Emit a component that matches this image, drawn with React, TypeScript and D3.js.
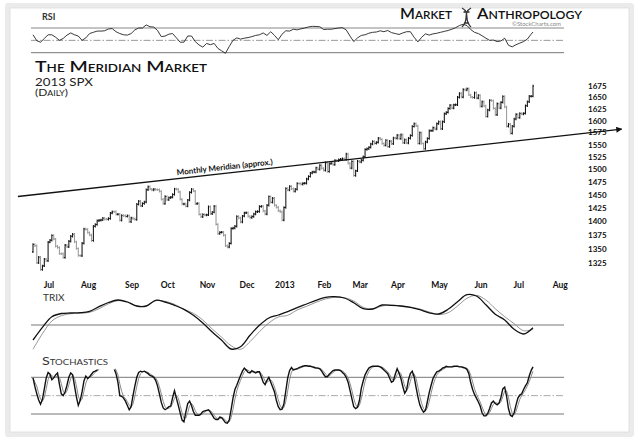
import React from 'react';
import * as d3 from 'd3';

// S&P 500 daily closes, 19 Jun 2012 .. 11 Jul 2013
const priorClose = 1344.78;
const closes = [
  1357.98, 1355.69, 1325.51, 1335.02, 1313.72, 1319.99, 1331.85, 1329.04, 1362.16,
  1365.51, 1374.02, 1367.58, 1354.68, 1352.46, 1341.47, 1341.45, 1334.76, 1356.78, 1353.64,
  1363.67, 1372.78, 1376.51, 1362.66, 1350.52, 1338.31, 1337.89, 1360.02, 1385.97, 1385.3, 1379.32,
  1375.14, 1365.0, 1390.99, 1394.23, 1401.35, 1402.22, 1402.8, 1405.87, 1404.11, 1403.93, 1405.53,
  1415.51, 1418.16, 1418.13, 1413.17, 1413.49, 1402.08, 1411.13, 1410.44, 1409.3, 1410.49, 1399.48, 1406.58,
  1404.94, 1403.44, 1432.12, 1437.92, 1429.08, 1433.56, 1436.56, 1459.99, 1465.77, 1461.19,
  1459.32, 1461.05, 1460.26, 1460.15, 1456.89, 1441.59, 1433.32, 1447.15, 1440.67,
  1444.49, 1445.75, 1450.99, 1461.4, 1460.93, 1455.88, 1441.48, 1432.56, 1432.84, 1428.59,
  1440.13, 1454.92, 1460.91, 1457.34, 1433.19, 1433.82, 1413.11, 1408.75, 1412.97, 1411.94, 1412.16,
  1427.59, 1414.2, 1417.26, 1428.39, 1394.53, 1377.51, 1379.85, 1380.03, 1374.53, 1355.49, 1353.33,
  1359.88, 1386.89, 1387.81, 1391.03, 1409.15, 1406.29, 1398.94, 1409.93, 1415.95, 1416.18,
  1409.46, 1407.05, 1409.28, 1413.94, 1418.07, 1418.55, 1427.84, 1428.48, 1419.45, 1413.58,
  1430.36, 1446.79, 1435.81, 1443.69, 1430.15, 1426.66, 1419.83, 1418.1, 1402.43, 1426.19,
  1462.42, 1459.37, 1466.47, 1461.89, 1457.15, 1461.02, 1472.12, 1472.05, 1470.68, 1472.34,
  1472.63, 1480.94, 1485.98, 1492.56, 1494.81, 1494.82, 1502.96, 1500.18, 1507.84, 1501.96, 1498.11,
  1513.17, 1495.71, 1511.29, 1512.12, 1509.39, 1517.93, 1517.01, 1519.43, 1520.33, 1521.38,
  1519.79, 1530.94, 1511.95, 1502.42, 1515.6, 1487.85, 1496.94, 1515.99, 1514.68,
  1518.2, 1525.2, 1539.79, 1541.46, 1544.26, 1551.18, 1556.22, 1552.48, 1554.52, 1563.23,
  1560.7, 1552.1, 1548.34, 1558.71, 1545.8, 1556.89, 1551.69, 1563.77, 1562.85, 1569.19,
  1562.17, 1570.25, 1553.69, 1559.98, 1553.28, 1563.07, 1568.61, 1587.73, 1593.37, 1588.85, 1552.36,
  1574.57, 1552.01, 1541.61, 1555.25, 1562.5, 1578.78, 1578.79, 1585.16, 1582.24, 1593.61, 1597.57,
  1582.7, 1597.59, 1614.42, 1617.5, 1625.96, 1632.69, 1626.67, 1633.7, 1633.77, 1650.34, 1658.78,
  1650.47, 1667.47, 1666.29, 1669.16, 1655.35, 1650.51, 1649.6, 1660.06, 1648.36, 1654.41, 1630.74,
  1640.42, 1631.38, 1608.9, 1622.56, 1643.38, 1642.81, 1626.13, 1612.52, 1636.36, 1626.73,
  1639.04, 1651.81, 1628.93, 1588.19, 1592.43, 1573.09, 1588.03, 1603.26, 1613.2, 1606.28,
  1614.96, 1614.08, 1615.41, 1631.89, 1640.46, 1652.32, 1652.62, 1675.02,
];

const monthLabels = ['Jul', 'Aug', 'Sep', 'Oct', 'Nov', 'Dec', '2013', 'Feb', 'Mar', 'Apr', 'May', 'Jun', 'Jul', 'Aug'];
const monthStarts = [9, 30, 53, 72, 93, 114, 134, 155, 174, 194, 216, 238, 258, 280];
const priceTicks = [1325, 1350, 1375, 1400, 1425, 1450, 1475, 1500, 1525, 1550, 1575, 1600, 1625, 1650, 1675];

// RSI(14), one reading every 2 sessions
const rsiStep = 2;
const rsi = [
  59, 49.5, 47, 53, 59, 59, 55, 50, 53, 58.5, 62, 59, 57, 50, 54, 61, 63, 65, 65, 65.5,
  68.5, 69, 64, 61, 59, 58.5, 61, 67, 70, 70, 75, 72, 71.5, 66, 56, 57, 60, 61, 54, 47,
  47, 57, 57, 48, 42.5, 39, 45, 43, 45, 37, 33, 29, 40, 50, 54, 52, 53.5, 54.5, 56, 58,
  59, 62, 58, 64, 58, 51, 60, 65.5, 65, 68, 67, 68.7, 70, 71.7, 72.7, 72.5, 72, 67.5, 68, 68,
  69, 70, 70.5, 67, 57, 48, 54, 58, 59, 61.5, 63, 63.5, 65.5, 64, 66, 62.5, 61, 59.5, 62, 64,
  64, 55, 47.5, 55, 60.5, 58.5, 60.5, 61.5, 63, 64.5, 66, 68, 70.5, 74, 76, 74, 67.5, 63, 61, 57.5,
  53.5, 50, 50.5, 48, 49, 53.5, 42, 39.5, 43, 45.5, 48, 52, 60, 63.5,
];

// TRIX and its signal, one reading every 5 sessions
const trixStep = 5;
const trix = [
  -0.15, -0.023, 0.083, 0.115, 0.12, 0.123, 0.137, 0.183, 0.225, 0.25,
  0.23, 0.19, 0.19, 0.247, 0.23, 0.197, 0.157, 0.097, 0.02, -0.07,
  -0.153, -0.24, -0.217, -0.103, -0.003, 0.07, 0.1, 0.133, 0.173, 0.21,
  0.247, 0.277, 0.283, 0.27, 0.223, 0.163, 0.16, 0.2, 0.197, 0.19,
  0.177, 0.153, 0.122, 0.11, 0.157, 0.233, 0.303, 0.29, 0.203, 0.107,
  0.05, -0.043, -0.09, -0.027,
];
const trixSignal = [
  -0.243, -0.087, 0.04, 0.093, 0.113, 0.117, 0.127, 0.163, 0.212, 0.243,
  0.233, 0.19, 0.19, 0.243, 0.237, 0.207, 0.157, 0.117, 0.05, -0.04,
  -0.123, -0.207, -0.243, -0.167, -0.067, 0.02, 0.08, 0.097, 0.15, 0.187,
  0.227, 0.26, 0.277, 0.273, 0.24, 0.177, 0.16, 0.19, 0.2, 0.19,
  0.18, 0.16, 0.13, 0.105, 0.123, 0.19, 0.267, 0.297, 0.25, 0.163,
  0.083, 0.013, -0.057, -0.043,
];

// slow stochastic %K, one per session
const stochK = [
  79, 65, 53, 43, 36, 44, 61, 79, 88, 85, 76, 79, 84, 87, 69, 53, 50, 56, 67, 80,
  87, 84, 66, 48, 34, 42, 56, 74, 82, 78, 81, 85, 89, 90, 92, 96, 98, 99, 99, 98,
  98, 97, 96, 94, 86, 72, 50, 49, 46, 41, 34, 27, 32, 50, 66, 80, 88, 90, 89, 90,
  88, 86, 83, 82, 80, 75, 66, 53, 39, 30, 27, 29, 32, 33, 47, 58, 46, 34, 22, 10,
  7, 23, 37, 41, 34, 24, 18, 18, 18, 20, 24, 25, 26, 27, 23, 18, 13, 11, 11, 15,
  14, 10, 6, 5, 10, 27, 46, 60, 67, 75, 83, 90, 95, 92, 88, 87, 91, 89, 87, 89,
  89, 81, 72, 68, 75, 80, 72, 64, 56, 42, 32, 27, 28, 37, 58, 79, 91, 96, 92, 93,
  94, 96, 97, 98, 99, 99, 98, 98, 97, 96, 95, 95, 94, 90, 85, 81, 81, 85, 88, 91,
  92, 92, 92, 91, 88, 85, 80, 72, 59, 45, 32, 29, 31, 42, 62, 74, 84, 90, 95, 97,
  98, 98, 98, 98, 97, 95, 92, 89, 86, 79, 72, 74, 85, 94, 87, 78, 65, 54, 59, 76,
  86, 90, 81, 64, 48, 35, 28, 23, 26, 40, 55, 67, 78, 84, 89, 90, 92, 95, 96, 98,
  97, 97, 97, 98, 98, 98, 97, 97, 96, 95, 93, 86, 71, 60, 52, 46, 40, 33, 22, 17,
  17, 21, 29, 38, 41, 37, 35, 38, 47, 61, 64, 49, 29, 18, 16, 22, 35, 46, 51, 53,
  60, 66, 71, 82, 91, 97,
];

// hand-drawn trend line (session index, price)
const meridian = [
  { idx: -8, price: 1447 },
  { idx: 312, price: 1582 },
];

const FONT = 'Lato, "Open Sans", sans-serif';
const lastIdx = closes.length - 1;
const x = d3.scaleLinear().domain([0, lastIdx]).range([33, 533]);
const yPrice = d3.scaleLog().domain([1325, 1675]).range([263, 86]);
const yRsi = d3.scaleLinear().domain([30, 70]).range([52.7, 28]);
const yTrix = d3.scaleLinear().domain([0, 0.3]).range([325, 295]);
const yStoch = d3.scaleLinear().domain([20, 80]).range([414, 377.3]);
const left = 31;
const right = 564;

const App: React.FC = () => {
  const rsiLine = d3
    .line<number>()
    .x((_, i) => x(Math.min(i * rsiStep, lastIdx)))
    .y((d) => yRsi(d))(rsi);

  const trixGen = d3
    .line<number>()
    .x((_, i) => x(Math.min(i * trixStep, lastIdx)))
    .y((d) => yTrix(d))
    .curve(d3.curveCatmullRom.alpha(0.5));

  // %D is the 3-session average of %K
  const stochD = stochK.map((_, i) => d3.mean(stochK.slice(Math.max(0, i - 2), i + 1)) as number);
  const stochGen = d3
    .line<number>()
    .x((_, i) => x(i))
    .y((d) => yStoch(d));

  const p0: [number, number] = [x(meridian[0].idx), yPrice(meridian[0].price)];
  const p1: [number, number] = [x(meridian[1].idx), yPrice(meridian[1].price)];
  const angle = (Math.atan2(p1[1] - p0[1], p1[0] - p0[0]) * 180) / Math.PI;
  const t = (225 - p0[0]) / (p1[0] - p0[0]);
  const lx = 225;
  const ly = p0[1] + t * (p1[1] - p0[1]) - 3.5;

  return (
    <div style={{ position: 'absolute', left: 0, top: 0 }}>
      <svg width={640} height={443} style={{ display: 'block', background: '#fff' }}>
        <defs>
          <marker id="arrow" viewBox="0 0 10 10" refX="9" refY="5" markerWidth="7" markerHeight="6" orient="auto" markerUnits="userSpaceOnUse">
            <path d="M0,0 L10,5 L0,10 z" fill="#111" />
          </marker>
        </defs>

        {/* card */}
        <rect x={5} y={3} width={629} height={434} rx={3} fill="#ebebeb" />
        <rect x={10} y={8} width={619} height={424} fill="#fff" stroke="#dcdcdc" strokeWidth={0.8} />

        {/* RSI panel */}
        <text x={42} y={19.5} fontFamily={FONT} fontSize={9} fontWeight={700} fill="#333">RSI</text>
        <line x1={left} x2={right} y1={yRsi(70)} y2={yRsi(70)} stroke="#888" />
        <line x1={left} x2={right} y1={yRsi(50)} y2={yRsi(50)} stroke="#999" strokeDasharray="7 2 1.5 2" />
        <line x1={left} x2={right} y1={yRsi(30)} y2={yRsi(30)} stroke="#777" />
        <path d={rsiLine ?? ''} fill="none" stroke="#222" strokeWidth={0.9} />

        {/* logo */}
        <text x={400} y={18.5} fontFamily={FONT} fontSize={15} fontWeight={600} fill="#111" style={{ fontVariant: 'small-caps' }} textLength={52} lengthAdjust="spacingAndGlyphs">Market</text>
        <path d="M462,8 C471,13 463,20 471,27 M471,8 C462,13 470,20 462,27 M463.5,12 L469.5,12 M464,23 L469,23" fill="none" stroke="#333" strokeWidth={1.3} />
        <text x={477} y={18.5} fontFamily={FONT} fontSize={15} fontWeight={600} fill="#111" style={{ fontVariant: 'small-caps' }} textLength={105} lengthAdjust="spacingAndGlyphs">Anthropology</text>
        <text x={512} y={25.5} fontFamily={FONT} fontSize={5} fill="#888" textLength={49} lengthAdjust="spacingAndGlyphs">©StockCharts.com</text>

        {/* title */}
        <text x={35} y={71.5} fontFamily={FONT} fontSize={16} fontWeight={600} fill="#111" style={{ fontVariant: 'small-caps' }} textLength={172} lengthAdjust="spacingAndGlyphs">The Meridian Market</text>
        <text x={35} y={86} fontFamily={FONT} fontSize={11} fill="#222" textLength={58} lengthAdjust="spacingAndGlyphs">2013 SPX</text>
        <text x={35} y={95.5} fontFamily={FONT} fontSize={9.5} fill="#222" style={{ fontVariant: 'small-caps' }} textLength={33} lengthAdjust="spacingAndGlyphs">(Daily)</text>

        {/* price bars */}
        <g>
          {closes.map((c, i) => {
            const open = i === 0 ? priorClose : closes[i - 1];
            const xi = x(i);
            const color = c >= open ? '#111' : '#999';
            const yo = yPrice(open);
            const yc = yPrice(c);
            return (
              <g key={i} stroke={color} strokeWidth={1.05}>
                <line x1={xi} x2={xi} y1={Math.min(yo, yc) - 1.2} y2={Math.max(yo, yc) + 1.2} />
                <line x1={xi - 1} x2={xi} y1={yo} y2={yo} />
                <line x1={xi} x2={xi + 1} y1={yc} y2={yc} />
              </g>
            );
          })}
        </g>

        {/* meridian */}
        <line x1={p0[0]} y1={p0[1]} x2={p1[0]} y2={p1[1]} stroke="#111" strokeWidth={1.3} markerEnd="url(#arrow)" />
        <text x={lx} y={ly} transform={`rotate(${angle} ${lx} ${ly})`} textAnchor="middle" fontFamily={FONT} fontSize={8} fontWeight={700} fill="#111">
          Monthly Meridian (approx.)
        </text>

        {/* price axis */}
        {priceTicks.map((v) => (
          <text key={v} x={588} y={yPrice(v) + 3} fontFamily={FONT} fontSize={8} fontWeight={700} fill="#111">
            {v}
          </text>
        ))}

        {/* month axis */}
        {monthLabels.map((m, i) => (
          <text key={i} x={x(monthStarts[i]) - 1} y={288} textAnchor="middle" fontFamily={FONT} fontSize={8.5} fontWeight={700} fill="#111">
            {m}
          </text>
        ))}

        {/* TRIX panel */}
        <line x1={left} x2={right} y1={yTrix(0)} y2={yTrix(0)} stroke="#777" />
        <path d={trixGen(trixSignal) ?? ''} fill="none" stroke="#8a8a8a" strokeWidth={0.9} />
        <path d={trixGen(trix) ?? ''} fill="none" stroke="#111" strokeWidth={1.3} />
        <rect x={33} y={291} width={36} height={12} fill="#fff" />
        <text x={43} y={301} fontFamily={FONT} fontSize={10} fill="#333">TRIX</text>

        {/* stochastics panel */}
        <line x1={left} x2={right} y1={yStoch(80)} y2={yStoch(80)} stroke="#777" />
        <line x1={left} x2={right} y1={yStoch(50)} y2={yStoch(50)} stroke="#aaa" strokeDasharray="7 2 1.5 2" />
        <line x1={left} x2={right} y1={yStoch(20)} y2={yStoch(20)} stroke="#777" />
        <path d={stochGen(stochD) ?? ''} fill="none" stroke="#8a8a8a" strokeWidth={1} />
        <path d={stochGen(stochK) ?? ''} fill="none" stroke="#111" strokeWidth={1.4} />
        <rect x={33} y={355} width={82} height={14.5} fill="#fff" />
        <text x={42} y={365} fontFamily={FONT} fontSize={10.5} fill="#333" style={{ fontVariant: 'small-caps' }} textLength={66} lengthAdjust="spacingAndGlyphs">Stochastics</text>
      </svg>
    </div>
  );
};

export default App;
